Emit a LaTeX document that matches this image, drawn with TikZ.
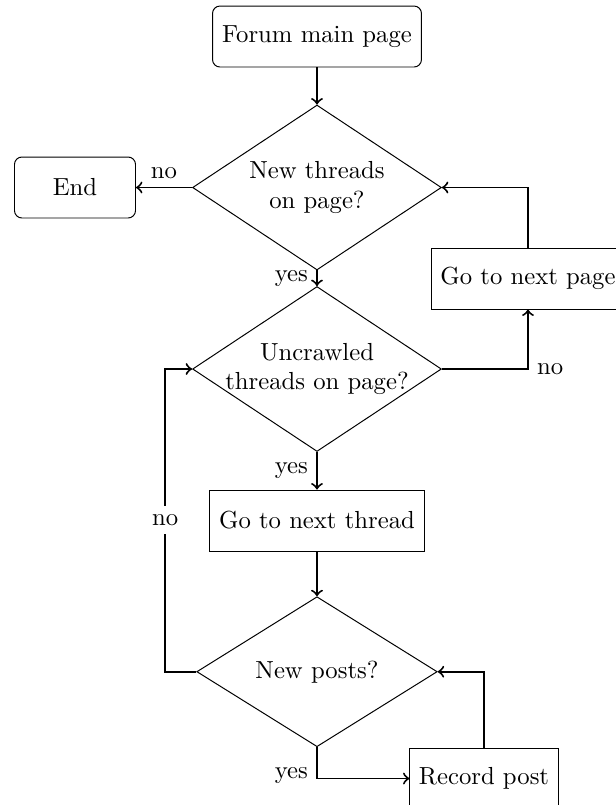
\documentclass[tikz,border=0pt]{standalone}
\usetikzlibrary{shapes.geometric}
\begin{document}
\begin{tikzpicture}[x=0.405pt,y=-0.405pt,
  rbox/.style={draw, rounded corners=3pt, minimum height=24.7pt, inner sep=0pt},
  sbox/.style={draw, minimum height=24.7pt, inner sep=0pt},
  dec/.style={draw, diamond, inner sep=0pt},
  dtext/.style={align=center, inner sep=0pt},
  conn/.style={thick, ->},
  lab/.style={inner sep=3.33pt}]
\clip (0,0) rectangle (616,805);
% nodes
\node[rbox, minimum width=84.6pt] (forum) at (317,36.5) {Forum main page};
\node[dec, minimum width=100.8pt, minimum height=66.8pt] (d1) at (317,187.5) {};
\node[dtext] (t1) at (d1.center) {New threads\\on page?};
\node[rbox, minimum width=49pt] (end) at (75,187.5) {End};
\node[sbox, minimum width=77.8pt] (gp) at (528,278.5) {Go to next page};
\node[dec, minimum width=100.8pt, minimum height=66.8pt] (d2) at (317,369) {};
\node[dtext] (t2) at (d2.center) {Uncrawled\\threads on page?};
\node[sbox, minimum width=87pt] (gt) at (317,520.5) {Go to next thread};
\node[dec, minimum width=97.4pt, minimum height=60.75pt] (d3) at (317,671.7) {};
\node[dtext] (t3) at (d3.center) {New posts?};
\node[sbox, minimum width=60pt] (rec) at (484,778.5) {Record post};
% connectors
\draw[conn] (forum) -- (d1);
\draw[conn] (d1.west) -- node[lab, above] {no} (end);
\draw[conn] (d1.south) -- node[lab, left] {yes} (d2.north);
\draw[conn] (gp.north) |- (d1.east);
\draw[conn] (d2.east) -| node[lab, pos=0.5, right] {no} (gp.south);
\draw[conn] (d2.south) -- node[lab, left] {yes} (gt.north);
\draw[conn] (gt) -- (d3.north);
\draw[conn] (d3.west) -- ++(-31,0) |- node[lab, pos=0.25, fill=white] {no} (d2.west);
\draw[conn] (d3.south) |- node[lab, pos=0.45, left] {yes} (rec.west);
\draw[conn] (rec.north) |- (d3.east);
\end{tikzpicture}
\end{document}
